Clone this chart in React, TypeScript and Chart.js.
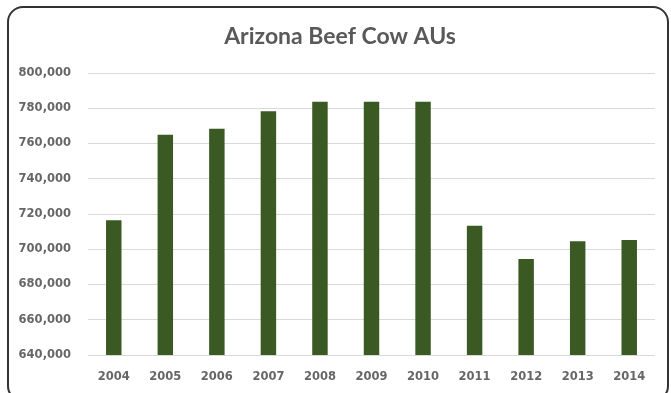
import React, { useEffect, useRef } from "react";
import { Chart, registerables } from "chart.js";

Chart.register(...registerables);

const TITLE = "Arizona Beef Cow AUs";
const YEARS = ["2004", "2005", "2006", "2007", "2008", "2009", "2010", "2011", "2012", "2013", "2014"];
const BEEF_COW_AUS = [716500, 765000, 768300, 778300, 783700, 783700, 783700, 713300, 694500, 704500, 705300];
const Y_MIN = 640000;
const Y_MAX = 800000;
const Y_STEP = 20000;

export default function App() {
  const ref = useRef<HTMLCanvasElement>(null);

  useEffect(() => {
    const titlePlugin = {
      id: "titleText",
      afterDraw(chart: any) {
        const ctx = chart.ctx;
        ctx.save();
        ctx.font = "bold 23px Lato";
        ctx.fillStyle = "#595959";
        ctx.textAlign = "center";
        ctx.textBaseline = "alphabetic";
        ctx.fillText(TITLE, 340, 44);
        ctx.restore();
      },
    };

    const tickFont = { family: "'DejaVu Sans'", size: 11.5, weight: "bold" as const };

    const chart = new Chart(ref.current!, {
      type: "bar",
      data: {
        labels: YEARS,
        datasets: [
          {
            data: BEEF_COW_AUS,
            backgroundColor: "#3b5a23",
            borderWidth: 0,
            barPercentage: 0.3,
            categoryPercentage: 1,
          },
        ],
      },
      options: {
        responsive: false,
        animation: false,
        layout: { padding: { top: 73, left: 0, right: 16, bottom: 0 } },
        plugins: {
          legend: { display: false },
          tooltip: { enabled: false },
          title: { display: false },
        },
        scales: {
          x: {
            grid: { display: false, drawTicks: false },
            border: { display: false },
            ticks: { color: "#666666", font: tickFont, padding: 15, maxRotation: 0 },
            afterFit(s: any) {
              s.height = 38;
            },
          },
          y: {
            min: Y_MIN,
            max: Y_MAX,
            ticks: {
              stepSize: Y_STEP,
              color: "#666666",
              font: tickFont,
              padding: 17,
              callback: (v: any) => Number(v).toLocaleString("en-US"),
            },
            grid: { color: "#d9d9d9", drawTicks: false, lineWidth: 1 },
            border: { display: false },
            afterFit(s: any) {
              s.width = 88;
            },
          },
        },
      },
      plugins: [titlePlugin],
    });
    return () => chart.destroy();
  }, []);

  return (
    <div>
      <div
        style={{
          position: "fixed",
          left: 7,
          top: 6,
          width: 662,
          height: 396,
          boxSizing: "border-box",
          border: "2px solid #333333",
          borderRadius: 16,
          background: "#ffffff",
        }}
      />
      <canvas
        ref={ref}
        width={671}
        height={393}
        style={{ position: "fixed", left: 0, top: 0, width: 671, height: 393 }}
      />
    </div>
  );
}
